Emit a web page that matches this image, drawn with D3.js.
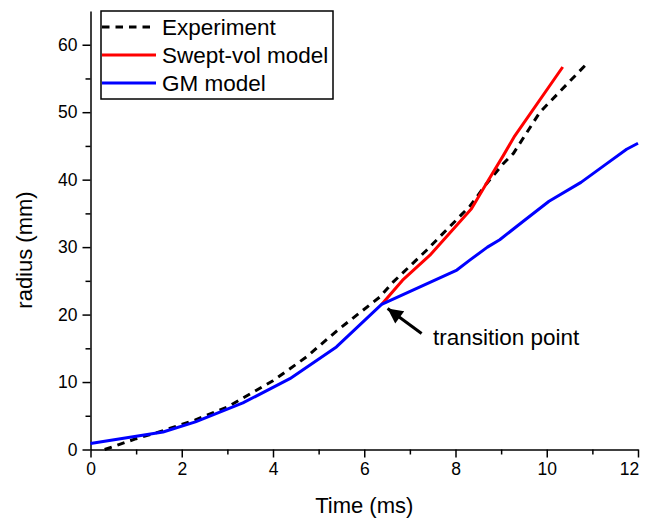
<!DOCTYPE html>
<html>
<head>
<meta charset="utf-8">
<script src="https://cdn.jsdelivr.net/npm/d3@7"></script>
<style>
  body { margin: 0; background: #fff; }
  svg text { font-family: "Liberation Sans", Arial, sans-serif; fill: #000; }
</style>
</head>
<body>
<svg id="chart" width="647" height="518"></svg>
<script>
// values
const expTime = [0.31, 1.0, 1.6, 2.3, 3.0, 4.0, 4.73, 5.4, 6.34, 6.63, 7.36, 8.32, 8.68, 9.05, 9.27, 9.85, 10.85];
const expRadius = [0.0, 1.6, 2.8, 4.4, 6.3, 10.2, 13.7, 17.6, 22.6, 24.8, 29.5, 36.1, 39.4, 42.4, 43.9, 50.0, 57.0];

const sweptTime = [6.38, 6.84, 7.44, 8.35, 8.72, 9.05, 9.3, 10.35];
const sweptRadius = [21.5, 25.1, 28.8, 35.7, 39.9, 43.6, 46.5, 56.7];

const gmTime = [0, 1.59, 2.3, 3.34, 4.37, 5.39, 6.38, 8.03, 8.32, 8.7, 8.97, 9.5, 10.05, 10.75, 11.3, 11.75, 12];
const gmRadius = [0.9, 2.6, 4.1, 6.9, 10.5, 15.2, 21.5, 26.6, 28.1, 30.0, 31.1, 33.9, 36.8, 39.6, 42.3, 44.5, 45.4];

const xTicks = [0, 2, 4, 6, 8, 10, 12];
const yTicks = [0, 10, 20, 30, 40, 50, 60];

const series = [
  { name: "Experiment", t: expTime, r: expRadius, color: "#000", dash: "7.5,6" },
  { name: "Swept-vol model", t: sweptTime, r: sweptRadius, color: "#ff0000", dash: null },
  { name: "GM model", t: gmTime, r: gmRadius, color: "#0000ff", dash: null }
];

const svg = d3.select("#chart");
const plotLeft = 90.5, plotRight = 638, plotTop = 11, plotBottom = 449.5;

const x = d3.scaleLinear().domain([0, 12]).range([plotLeft, plotRight]);
const y = d3.scaleLinear().domain([0, 65]).range([plotBottom, plotTop]);

// minor ticks
svg.append("g")
  .attr("transform", `translate(0,${plotBottom})`)
  .call(d3.axisBottom(x).tickValues(d3.range(1, 12, 2)).tickSize(5).tickFormat(""))
  .call(g => g.select(".domain").remove())
  .selectAll("line").attr("stroke-width", 1.5);
svg.append("g")
  .attr("transform", `translate(${plotLeft},0)`)
  .call(d3.axisLeft(y).tickValues(d3.range(5, 65, 10)).tickSize(5).tickFormat(""))
  .call(g => g.select(".domain").remove())
  .selectAll("line").attr("stroke-width", 1.5);

// major axes
const xAxis = svg.append("g")
  .attr("transform", `translate(0,${plotBottom})`)
  .call(d3.axisBottom(x).tickValues(xTicks).tickSize(8).tickSizeOuter(0).tickPadding(5));
const yAxis = svg.append("g")
  .attr("transform", `translate(${plotLeft},0)`)
  .call(d3.axisLeft(y).tickValues(yTicks).tickSize(8).tickSizeOuter(0).tickPadding(5));

[xAxis, yAxis].forEach(a => {
  a.select(".domain").attr("stroke-width", 1.5);
  a.selectAll(".tick line").attr("stroke-width", 1.5);
  a.selectAll(".tick text").attr("font-size", "17.5px")
    .attr("font-family", "'Liberation Sans', Arial, sans-serif").attr("fill", "#000");
});
// last x label sits left of its tick so it stays inside the frame
xAxis.selectAll(".tick text").filter(d => d === 12).attr("dx", -9);

// axis titles
svg.append("text")
  .attr("x", (plotLeft + plotRight) / 2).attr("y", 513)
  .attr("text-anchor", "middle").attr("font-size", "22px")
  .text("Time (ms)");
svg.append("text")
  .attr("transform", "translate(32,250) rotate(-90)")
  .attr("text-anchor", "middle").attr("font-size", "22px")
  .text("radius (mm)");

// lines
const line = d3.line().x(d => x(d[0])).y(d => y(d[1]));
series.forEach(s => {
  svg.append("path")
    .datum(d3.zip(s.t, s.r))
    .attr("d", line)
    .attr("fill", "none")
    .attr("stroke", s.color)
    .attr("stroke-width", 3)
    .attr("stroke-dasharray", s.dash)
    .attr("stroke-linejoin", "round");
});

// transition point annotation
const tp = [gmTime[6], gmRadius[6]];
svg.append("defs").append("marker")
  .attr("id", "head")
  .attr("viewBox", "0 0 10 10")
  .attr("refX", 10).attr("refY", 5)
  .attr("markerWidth", 5.5).attr("markerHeight", 5)
  .attr("markerUnits", "strokeWidth")
  .attr("orient", "auto")
  .append("path").attr("d", "M0,0 L10,5 L0,10 Z").attr("fill", "#000");
svg.append("line")
  .attr("x1", x(tp[0]) + 40).attr("y1", y(tp[1]) + 29)
  .attr("x2", x(tp[0]) + 6).attr("y2", y(tp[1]) + 4)
  .attr("stroke", "#000").attr("stroke-width", 3)
  .attr("marker-end", "url(#head)");
svg.append("text")
  .attr("x", 433).attr("y", 345)
  .attr("font-size", "22.5px")
  .text("transition point");

// legend
const lg = svg.append("g");
lg.append("rect")
  .attr("x", 101).attr("y", 11).attr("width", 232).attr("height", 88)
  .attr("fill", "#fff").attr("stroke", "#000").attr("stroke-width", 1.5);
series.forEach((s, i) => {
  const cy = 27 + i * 28;
  lg.append("line")
    .attr("x1", 102).attr("x2", 156).attr("y1", cy).attr("y2", cy)
    .attr("stroke", s.color).attr("stroke-width", 3)
    .attr("stroke-dasharray", s.dash);
  lg.append("text")
    .attr("x", 162).attr("y", cy + 8)
    .attr("font-size", "22.5px")
    .text(s.name);
});
</script>
</body>
</html>
